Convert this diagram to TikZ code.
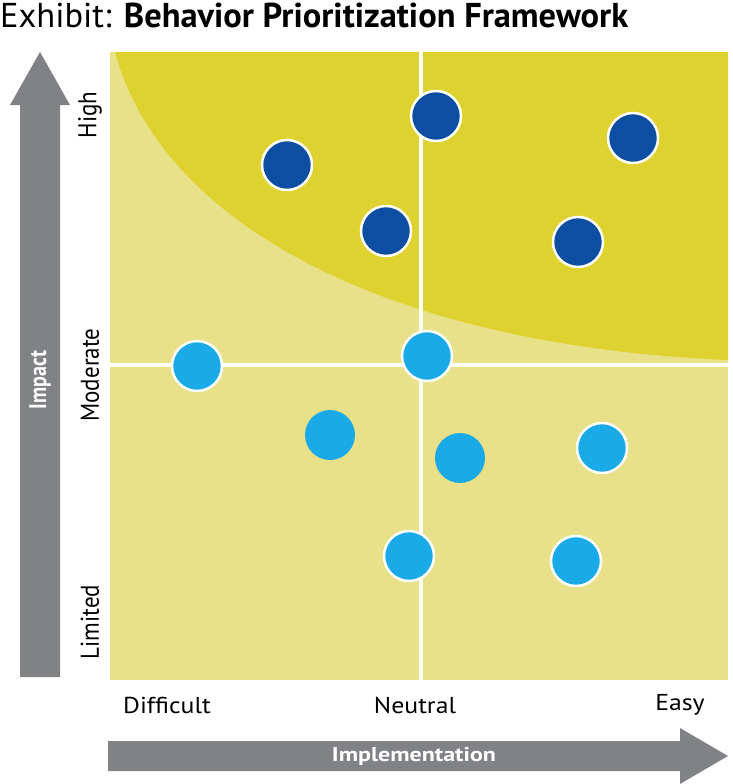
\documentclass[tikz,border=0pt]{standalone}
\usepackage{fontspec}
\setmainfont{PT Sans}
\definecolor{lightq}{HTML}{E9E08A}
\definecolor{darkq}{HTML}{DDD22F}
\definecolor{dblue}{HTML}{0B4EA2}
\definecolor{lblue}{HTML}{1BAAE8}
\definecolor{agray}{HTML}{808285}
\tikzset{
  hi/.style={circle,fill=dblue,draw=white,line width=2.5pt,minimum size=50pt,inner sep=0pt},
  lo/.style={circle,fill=lblue,draw=white,line width=2.5pt,minimum size=50pt,inner sep=0pt},
  lonb/.style={circle,fill=lblue,minimum size=50pt,inner sep=0pt},
  lab/.style={font=\fontsize{23}{25}\selectfont,text=black,xscale=1.12},
  alab/.style={font=\bfseries\fontsize{20}{22}\selectfont,text=white,xscale=1.2}
}
\begin{document}
\begin{tikzpicture}[x=1pt,y=-1pt]
\useasboundingbox (0,0) rectangle (732,784);
\fill[lightq] (110,52) rectangle (728,680);
\fill[darkq] (115,52) .. controls (160,220) and (380,345) .. (728,360) -- (728,52) -- cycle;
\draw[white,line width=3.5pt] (421,52) -- (421,680);
\draw[white,line width=3.5pt] (110,365) -- (732,365);
\node[hi] (h1) at (287,165) {};
\node[hi] (h2) at (436,116) {};
\node[hi] (h3) at (633,138) {};
\node[hi] (h4) at (386,231) {};
\node[hi] (h5) at (578,242) {};
\node[lo] (l1) at (197,366) {};
\node[lo] (l2) at (427,356) {};
\node[lonb] (l3) at (330,435) {};
\node[lonb] (l4) at (460,458) {};
\node[lo] (l5) at (602,448) {};
\node[lo] (l6) at (409,556) {};
\node[lo] (l7) at (576,561) {};
% arrows
\fill[agray] (20,677) -- (20,105) -- (10,105) -- (40,52) -- (70,105) -- (60,105) -- (60,677) -- cycle;
\node[alab,rotate=90] (imp) at (40,380) {Impact};
\fill[agray] (108,741) -- (680,741) -- (680,728) -- (728,756) -- (680,784) -- (680,771) -- (108,771) -- cycle;
\node[alab] (impl) at (414,756) {Implementation};
% labels
\node[lab,rotate=90] (high) at (90,115) {High};
\node[lab,rotate=90] (mod) at (90,375) {Moderate};
\node[lab,rotate=90] (lim) at (90,622) {Limited};
\node[lab] (diff) at (167,705) {Difficult};
\node[lab] (neut) at (415,705) {Neutral};
\node[lab] (easy) at (680,705) {Easy};
\node[anchor=west,inner sep=0pt] (title) at (0,15) {\resizebox{628pt}{!}{\fontsize{27}{30}\selectfont Exhibit: \textbf{Behavior Prioritization Framework}}};
\end{tikzpicture}
\end{document}
